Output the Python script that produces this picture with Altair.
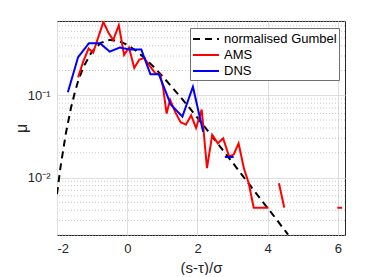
import altair as alt
import pandas as pd

# ---- data ----
series_names = ["normalised Gumbel", "AMS", "DNS"]

gumbel_x = [-2.0, -1.9, -1.75, -1.6, -1.5, -1.4, -1.25, -1.0, -0.75, -0.5, -0.25, 0.0,
            0.25, 0.5, 0.75, 1.0, 1.25, 1.5, 1.75, 2.0, 2.25, 2.5, 2.75, 3.0, 3.25,
            3.5, 3.75, 4.0, 4.25, 4.5, 4.58]
gumbel_y = [0.0063, 0.0134, 0.034, 0.071, 0.105, 0.148, 0.22, 0.343, 0.434, 0.471, 0.458, 0.411,
            0.348, 0.282, 0.222, 0.171, 0.129, 0.097, 0.072, 0.053, 0.039, 0.0285, 0.0208, 0.0152, 0.0110,
            0.0080, 0.0058, 0.00425, 0.00309, 0.00224, 0.00202]

ams_x = [-1.40, -1.25, -1.10, -0.97, -0.83, -0.68, -0.54, -0.40, -0.24, -0.09,
         0.05, 0.20, 0.34, 0.48, 0.63, 0.80, 0.93, 1.02, 1.12, 1.22,
         1.37, 1.52, 1.67, 1.82, 1.96, 2.12, 2.27, 2.42, 2.58, 2.73,
         2.90, 3.03, 3.17, 3.32, 3.46, 3.60, 3.75, 3.89, 4.02,
         4.32, 4.47,
         5.98, 6.12]
ams_y = [0.165, 0.26, 0.37, 0.33, 0.50, 0.78, 0.58, 0.47, 0.71, 0.31,
         0.38, 0.215, 0.27, 0.285, 0.23, 0.185, 0.18, 0.125, 0.060, 0.088,
         0.062, 0.047, 0.044, 0.057, 0.040, 0.067, 0.013, 0.033, 0.026, 0.030,
         0.018, 0.019, 0.026, 0.013, 0.0085, 0.0043, 0.0043, 0.0043, 0.0043,
         0.0085, 0.0043,
         0.0043, 0.0043]
ams_seg = [0] * 39 + [1, 1] + [2, 2]

dns_x = [-1.69, -1.40, -1.09, -0.78, -0.50, -0.21, 0.07, 0.40, 0.66, 0.90, 1.24, 1.57, 1.87, 2.16,
         2.78, 3.03]
dns_y = [0.109, 0.29, 0.43, 0.43, 0.34, 0.38, 0.36, 0.36, 0.18, 0.18, 0.077, 0.055, 0.127, 0.036,
         0.0178, 0.0178]
dns_seg = [0] * 14 + [1, 1]

x_ticks = [-2, 0, 2, 4, 6]
y_major = [0.01, 0.1]
y_minor = [0.002, 0.003, 0.004, 0.005, 0.006, 0.007, 0.008, 0.009,
           0.02, 0.03, 0.04, 0.05, 0.06, 0.07, 0.08, 0.09,
           0.2, 0.3, 0.4, 0.5, 0.6, 0.7, 0.8]

# ---- tables (draw order: Gumbel, AMS, DNS) ----
lines = pd.concat([
    pd.DataFrame({"x": gumbel_x, "y": gumbel_y, "seg": 0, "series": series_names[0]}),
    pd.DataFrame({"x": ams_x, "y": ams_y, "seg": ams_seg, "series": series_names[1]}),
    pd.DataFrame({"x": dns_x, "y": dns_y, "seg": dns_seg, "series": series_names[2]}),
], ignore_index=True)
mdf = pd.DataFrame({"y": y_minor})

FONT = "Liberation Sans"
xscale = alt.Scale(domain=[-2, 6.2], nice=False, zero=False)
yscale = alt.Scale(type="log", domain=[0.002, 0.8], nice=False)

xaxis = alt.Axis(values=x_ticks, labelExpr="'' + datum.value", title="(s-τ)/σ",
                 grid=True, gridColor="#dedede", ticks=False, domain=False,
                 labelPadding=7, labelFontSize=13, labelFont=FONT, labelColor="#262626",
                 titleFontSize=15, titleFont=FONT, titleColor="#262626", titleFontWeight="normal",
                 titleY=32, titleBaseline="middle")
yaxis = alt.Axis(values=y_major, labelExpr="datum.value < 0.05 ? '10⁻²' : '10⁻¹'", title="μ",
                 grid=True, gridColor="#dedede", ticks=False, domain=False,
                 labelPadding=7, labelFontSize=13, labelFont=FONT, labelColor="#262626",
                 titleFontSize=16, titleFont=FONT, titleColor="#262626", titleFontWeight="normal",
                 titleX=-36, titleY=107, titleAngle=270, titleBaseline="middle", titleAlign="center")

# wide, flat legend symbol: custom path in the [-1,1] box, scaled by sqrt(size)/2 = 8
legend = alt.Legend(title=None, orient="none", legendX=133, legendY=7,
                    labelFontSize=13, labelFont=FONT, labelColor="black",
                    symbolType="M-1.625,0L1.625,0", symbolSize=256, symbolStrokeWidth=2,
                    symbolOffset=5, labelOffset=9,
                    padding=2, rowPadding=0, labelLimit=300,
                    fillColor="white", strokeColor="#707070")

minor = alt.Chart(mdf).mark_rule(color="#c8c8c8", strokeDash=[1, 2], strokeWidth=1).encode(
    y=alt.Y("y:Q", scale=yscale, axis=yaxis))

curves = alt.Chart(lines).mark_line(strokeWidth=2, clip=True).encode(
    x=alt.X("x:Q", scale=xscale, axis=xaxis),
    y=alt.Y("y:Q", scale=yscale, axis=yaxis),
    color=alt.Color("series:N", sort=series_names,
                    scale=alt.Scale(domain=series_names, range=["#000000", "#ff0000", "#0000ff"]),
                    legend=legend),
    strokeDash=alt.StrokeDash("series:N", sort=series_names,
                              scale=alt.Scale(domain=series_names, range=[[7, 5], [1, 0], [1, 0]]),
                              legend=legend),
    detail="seg:N",
)

chart = alt.layer(minor, curves).properties(
    width=288, height=214,
    padding={"left": 49, "top": 13, "right": 29, "bottom": 40},
    autosize=alt.AutoSizeParams(type="none"),
    background="white",
).configure(font=FONT).configure_view(stroke="#262626", strokeWidth=1)

chart.save("out.html", embed_options={"renderer": "svg", "actions": False})
